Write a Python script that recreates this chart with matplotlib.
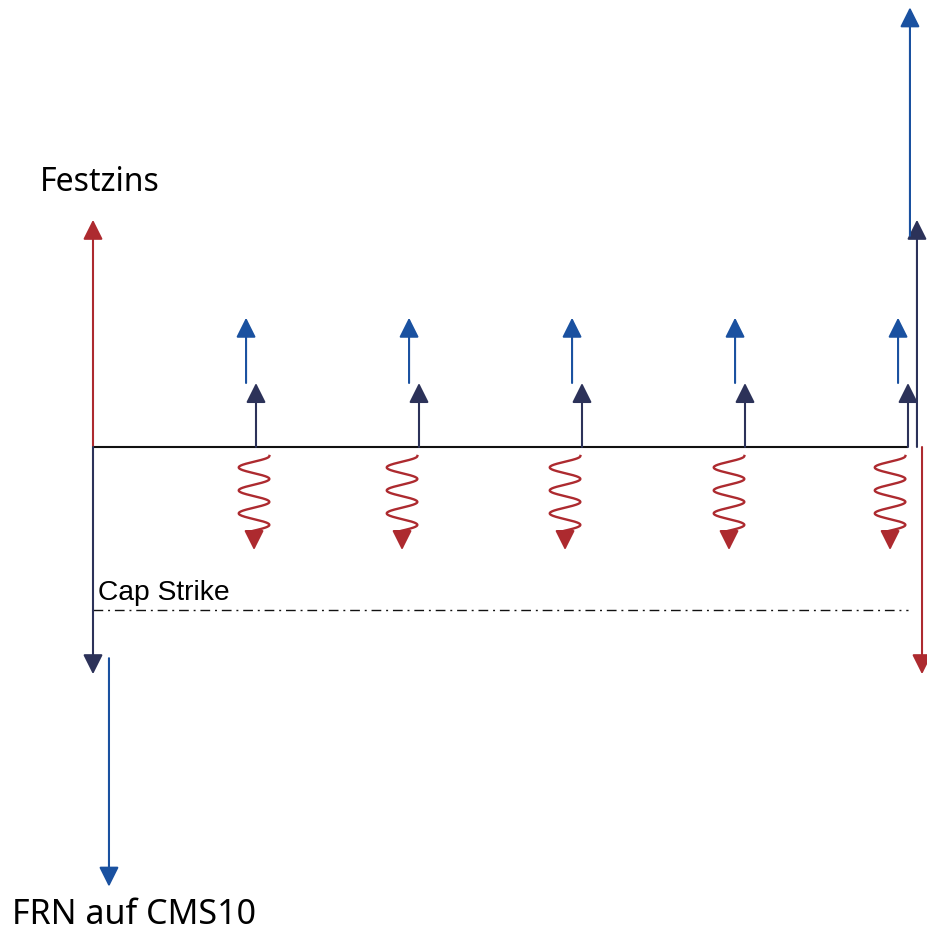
import numpy as np
import matplotlib.pyplot as plt

# cash flow schedule (years, amounts in coupon units)
coupon_times = [1, 2, 3, 4, 5]
fixed_coupons = [1.0, 1.0, 1.0, 1.0, 1.0]
cms_coupons = [1.02, 1.02, 1.02, 1.02, 1.02]
cap_payments = [1.61, 1.61, 1.61, 1.61, 1.61]
notional = 3.55
frn_start = 3.3
frn_notional = 3.57
cap_strike = -2.55
maturity = 5

RED = '#ad2a2f'
NAVY = '#2c3259'
BLUE = '#1a51a0'


def arrow(ax, x0, y0, x1, y1, color, lw=1.5):
    ax.annotate('', xy=(x1, y1), xytext=(x0, y0),
                arrowprops=dict(arrowstyle='-|>,head_length=1.2,head_width=0.6',
                                color=color, lw=lw, shrinkA=0, shrinkB=0))


fig = plt.figure(figsize=(9.28, 9.33), dpi=100)
ax = fig.add_axes([0, 0, 1, 1])
ax.set_xlim(-93 / 163, 835 / 163)
ax.set_ylim(-486 / 64, 447 / 64)
ax.axis('off')

# timeline
ax.plot([0, maturity], [0, 0], color='#111111', lw=1.5, solid_capstyle='butt')

# start: notional exchange
arrow(ax, 0, 0, 0, notional, RED)
arrow(ax, 0, 0, 0, -notional, NAVY)
arrow(ax, 0.098, -frn_start, 0.098, -frn_start - frn_notional, BLUE)

# maturity: notional exchange
arrow(ax, maturity + 0.086, 0, maturity + 0.086, -notional, RED)
arrow(ax, maturity + 0.055, 0, maturity + 0.055, notional, NAVY)
arrow(ax, maturity + 0.012, frn_start, maturity + 0.012, frn_start + frn_notional, BLUE)

# periodic coupons
wave_dx = [-0.012, -0.104, -0.104, -0.098, -0.11]
amp, period = 0.094, 0.359
y_top, y_bot = -0.14, -1.31
yy = np.linspace(y_top, y_bot, 300)
for t, fc, cc, cp, dx in zip(coupon_times, fixed_coupons, cms_coupons, cap_payments, wave_dx):
    arrow(ax, t, 0, t, fc, NAVY)
    arrow(ax, t - 0.061, fc, t - 0.061, fc + cc, BLUE)
    c = t + dx
    ax.plot(c + amp * np.cos(2 * np.pi * (y_top - yy) / period), yy, color=RED, lw=1.7)
    arrow(ax, c, y_bot, c, -cp, RED)

# cap strike level
ax.plot([0, maturity], [cap_strike, cap_strike], color='#111111', lw=1.0,
        dashes=(7, 3.5, 1.4, 3.5))

ax.text(0.03, -2.39, 'Cap Strike', family='Liberation Sans', fontsize=20.3,
        va='baseline', ha='left')
ax.text(-0.325, 4.0, 'Festzins', family='Noto Sans', fontsize=23,
        va='baseline', ha='left')
ax.text(-0.497, -7.46, 'FRN auf CMS10', family='Noto Sans', fontsize=24.5,
        va='baseline', ha='left')

fig.savefig('out.png', dpi=100)
